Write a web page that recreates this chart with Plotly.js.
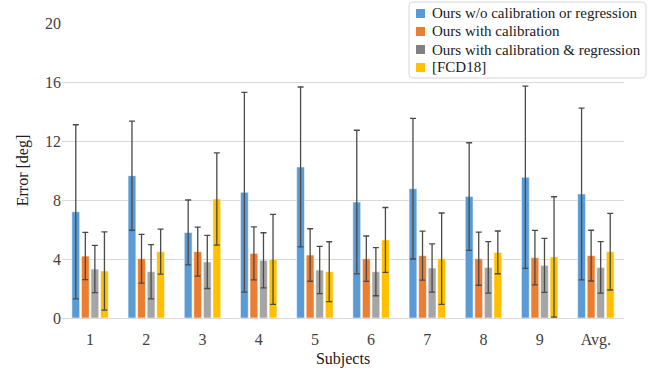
<!DOCTYPE html>
<html>
<head>
<meta charset="utf-8">
<script src="https://cdn.plot.ly/plotly-3.0.1.min.js"></script>
<style>html,body{margin:0;padding:0;background:#fff;}#chart{width:660px;height:372px;}</style>
</head>
<body>
<div id="chart"></div>
<script>
const categories = ["1","2","3","4","5","6","7","8","9","Avg."];
const seriesNames = ["Ours w/o calibration or regression","Ours with calibration","Ours with calibration &amp; regression","[FCD18]"];
const noCalib = [7.2, 9.65, 5.8, 8.52, 10.24, 7.86, 8.77, 8.23, 9.54, 8.41];
const noCalibErr = [5.9, 3.7, 2.2, 6.77, 5.42, 4.87, 4.77, 3.65, 6.18, 5.82];
const withCalib = [4.2, 4.02, 4.5, 4.38, 4.27, 4.02, 4.23, 4.02, 4.09, 4.23];
const withCalibErr = [1.6, 1.65, 1.66, 1.8, 1.78, 1.54, 1.66, 1.8, 1.85, 1.72];
const calibReg = [3.32, 3.14, 3.8, 3.91, 3.25, 3.14, 3.39, 3.43, 3.57, 3.43];
const calibRegErr = [1.6, 1.84, 1.8, 1.87, 1.6, 1.63, 1.64, 1.75, 1.83, 1.75];
const fcd18 = [3.19, 4.5, 8.07, 3.98, 3.14, 5.29, 4.02, 4.45, 4.14, 4.5];
const fcd18Err = [2.65, 1.53, 3.13, 3.05, 2.03, 2.2, 3.1, 1.45, 4.08, 2.6];
const yTicks = [0, 4, 8, 12, 16, 20];

const colors = ["#5B9BD5", "#ED7D31", "#A5A5A5", "#FFC000"];
const legendColors = ["#5B9BD5", "#ED7D31", "#808080", "#FFC000"];
const vals = [noCalib, withCalib, calibReg, fcd18];
const errs = [noCalibErr, withCalibErr, calibRegErr, fcd18Err];

const traces = vals.map((v, i) => ({
  type: "bar",
  name: seriesNames[i],
  x: categories,
  y: v,
  showlegend: false,
  marker: {color: colors[i], line: {color: "rgba(255,255,255,0.55)", width: 1}},
  error_y: {type: "data", array: errs[i], visible: true, color: "#4a4a4a", thickness: 1.3, width: 3}
}));

// plot area geometry (pixels) for placing the legend box
const M = {l: 62, r: 36, t: 23, b: 54};
const W = 660, H = 372;
const pw = W - M.l - M.r, ph = H - M.t - M.b;
const px = p => (p - M.l) / pw;
const py = p => (H - M.b - p) / ph;

// legend box (rounded)
const bx0 = 409, bx1 = 646, by0 = 2, by1 = 78, rr = 5;
const boxPath = [
  `M ${px(bx0 + rr)} ${py(by0)}`,
  `L ${px(bx1 - rr)} ${py(by0)}`,
  `Q ${px(bx1)} ${py(by0)} ${px(bx1)} ${py(by0 + rr)}`,
  `L ${px(bx1)} ${py(by1 - rr)}`,
  `Q ${px(bx1)} ${py(by1)} ${px(bx1 - rr)} ${py(by1)}`,
  `L ${px(bx0 + rr)} ${py(by1)}`,
  `Q ${px(bx0)} ${py(by1)} ${px(bx0)} ${py(by1 - rr)}`,
  `L ${px(bx0)} ${py(by0 + rr)}`,
  `Q ${px(bx0)} ${py(by0)} ${px(bx0 + rr)} ${py(by0)} Z`
].join(" ");

const rowY = [13.5, 31.5, 49.5, 67.5];
const shapes = [{
  type: "path", xref: "paper", yref: "paper", path: boxPath, layer: "above",
  fillcolor: "#ffffff", line: {color: "#d6d6d6", width: 1}
}];
const font = "Liberation Serif";
const annotations = [];
seriesNames.forEach((name, i) => {
  shapes.push({
    type: "rect", xref: "paper", yref: "paper", layer: "above",
    x0: px(416), x1: px(425), y0: py(rowY[i] - 4.5), y1: py(rowY[i] + 4.5),
    fillcolor: legendColors[i], line: {width: 0}
  });
  annotations.push({
    xref: "paper", yref: "paper", x: px(430), y: py(rowY[i]),
    xanchor: "left", yanchor: "middle", showarrow: false,
    text: name, font: {family: font, size: 15, color: "#202020"}
  });
});

const layout = {
  width: W, height: H,
  margin: {l: M.l, r: M.r, t: M.t, b: M.b, autoexpand: false},
  paper_bgcolor: "#fff", plot_bgcolor: "#fff",
  barmode: "group", bargap: 0.32, bargroupgap: 0.18,
  font: {family: font, color: "#404040", size: 15},
  xaxis: {
    type: "category",
    title: {text: "Subjects", font: {family: font, size: 16, color: "#202020"}, standoff: 4},
    tickfont: {family: font, size: 16, color: "#404040"},
    showgrid: false, showline: true, linecolor: "#d9d9d9", linewidth: 1,
    ticks: "outside", ticklen: 7, tickcolor: "rgba(0,0,0,0)", zeroline: false
  },
  yaxis: {
    range: [0, 20], tickvals: yTicks, ticktext: yTicks.map(String),
    title: {text: "Error [deg]", font: {family: font, size: 16, color: "#202020"}, standoff: 12},
    tickfont: {family: font, size: 16, color: "#404040"},
    gridcolor: "#d9d9d9", gridwidth: 1, zeroline: true, zerolinecolor: "#d9d9d9",
    showline: false, ticks: ""
  },
  shapes: shapes,
  annotations: annotations,
  showlegend: false
};
Plotly.newPlot("chart", traces, layout, {displayModeBar: false, staticPlot: true});
</script>
</body>
</html>
